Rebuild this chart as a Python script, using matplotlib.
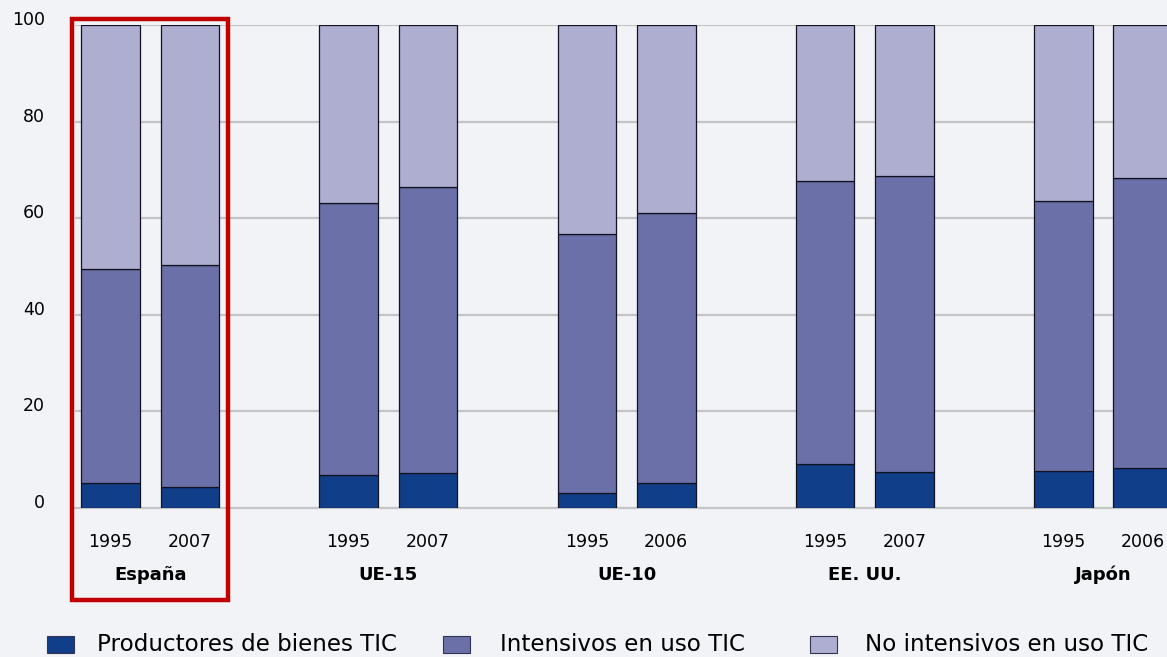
import matplotlib
matplotlib.use("Agg")
import matplotlib.pyplot as plt
from matplotlib.patches import Rectangle
import numpy as np

# ---- data ----
groups = ["España", "UE-15", "UE-10", "EE. UU.", "Japón"]
years = [["1995", "2007"], ["1995", "2007"], ["1995", "2006"], ["1995", "2007"], ["1995", "2006"]]
productores = [5.2, 4.3, 6.8, 7.2, 3.1, 5.2, 9.1, 7.5, 7.7, 8.3]
intensivos = [44.3, 46.0, 56.3, 59.3, 53.6, 55.9, 58.6, 61.2, 55.9, 60.0]
no_intensivos = [100 - p - i for p, i in zip(productores, intensivos)]
series_names = ["Productores de bienes TIC", "Intensivos en uso TIC", "No intensivos en uso TIC"]
colors = ["#113E88", "#6B70A8", "#AEAED0"]
yticks = [0, 20, 40, 60, 80, 100]

W, H = 1167, 657
fig = plt.figure(figsize=(W / 100, H / 100), dpi=100)
fig.patch.set_facecolor("#F1F3F7")

ax = fig.add_axes([75 / W, 1 - 508 / H, 1 - 75 / W, (508 - 25) / H])
ax.set_facecolor("none")

xpos = []
for g in range(len(groups)):
    xpos += [3 * g - 0.5, 3 * g + 0.5]
xpos = np.array(xpos)
bw = 0.74

bottom = np.zeros(len(xpos))
for vals, col in zip([productores, intensivos, no_intensivos], colors):
    ax.bar(xpos, vals, bw, bottom=bottom, color=col, edgecolor="#111122",
           linewidth=0.9, zorder=3)
    bottom += np.array(vals)

ax.set_xlim(-0.947, 12.806)
ax.set_ylim(0, 100)

for y in yticks[1:]:
    ax.axhline(y, color="#C4C4C4", linewidth=1.6, zorder=1)
for s in ["top", "right", "left"]:
    ax.spines[s].set_visible(False)
ax.spines["bottom"].set_color("#C4C4C4")
ax.spines["bottom"].set_linewidth(1.6)

ax.set_yticks(yticks)
ax.set_yticklabels([str(v) for v in yticks], fontsize=12.5, fontfamily="DejaVu Sans")
ax.tick_params(axis="y", length=0, pad=21.5)
for lab in ax.get_yticklabels():
    lab.set_verticalalignment("baseline")

ax.set_xticks(xpos)
ax.set_xticklabels([y for pair in years for y in pair], fontsize=12.5)
ax.tick_params(axis="x", length=0, pad=18)

for g, name in enumerate(groups):
    ax.text(3 * g, -13.9, name, ha="center", va="center", fontsize=13,
            fontweight="bold", clip_on=False)

# highlight box around España
ax.add_patch(Rectangle((-0.985, -19.0), 1.97, 120.2, fill=False,
                       edgecolor="#C00000", linewidth=3.2, clip_on=False, zorder=5))

# legend (manual)
leg_patch_x = [47, 443, 810]
leg_text_x = [97, 500, 865]
for px, tx, name, col in zip(leg_patch_x, leg_text_x, series_names, colors):
    fig.patches.append(Rectangle((px / W, 1 - 653 / H), 27 / W, 17 / H,
                                 transform=fig.transFigure, facecolor=col,
                                 edgecolor="#333355", linewidth=0.8))
    fig.text(tx / W, 1 - 651 / H, name, fontsize=16.6, va="baseline", ha="left")

fig.savefig("out.png", dpi=100, facecolor=fig.get_facecolor())
